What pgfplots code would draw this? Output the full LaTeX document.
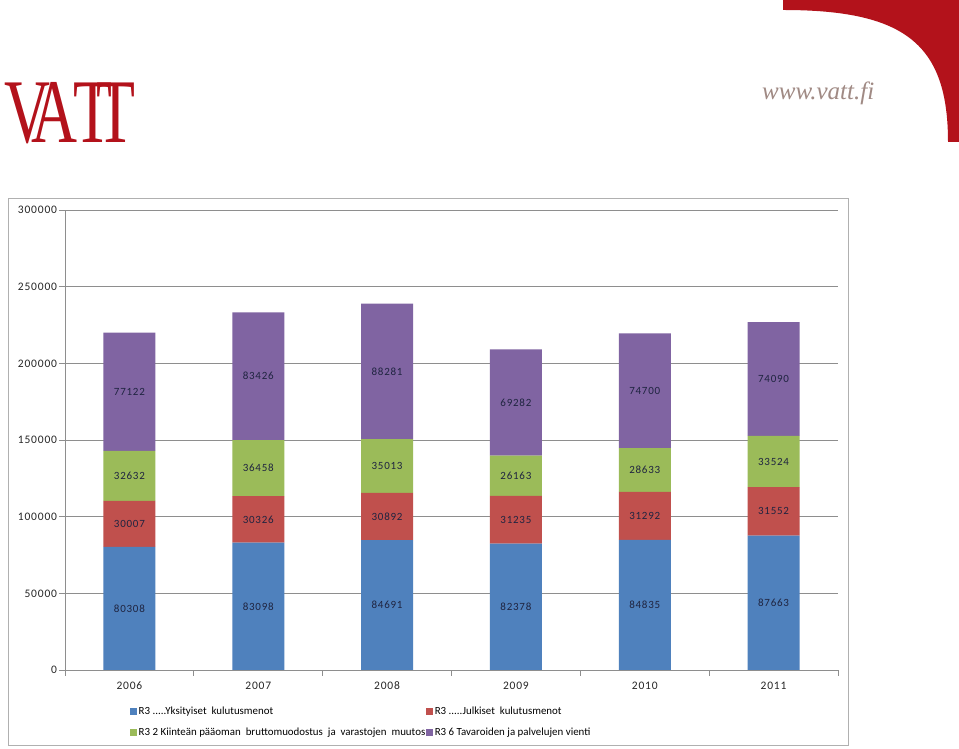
\documentclass[border=0pt]{standalone}
\usepackage{fontspec}
\setmainfont{Carlito}
\newfontfamily\serifit{Liberation Serif}
\newfontfamily\calsp[LetterSpace=7]{Carlito}
\usepackage{pgfplots}
\pgfplotsset{compat=1.18}
\usepackage{pgfplotstable}

\definecolor{cblue}{HTML}{4F81BD}
\definecolor{cred}{HTML}{C0504D}
\definecolor{cgreen}{HTML}{9BBB59}
\definecolor{cpurple}{HTML}{8064A2}
\definecolor{vattred}{HTML}{B3121B}
\definecolor{urlgray}{HTML}{A08A84}
\definecolor{gridgray}{HTML}{8E8E8E}
\definecolor{framegray}{HTML}{B0B0B0}
\definecolor{labelc}{HTML}{1F2440}

\pgfplotstableread{
x b r g p
0 80308 30007 32632 77122
1 83098 30326 36458 83426
2 84691 30892 35013 88281
3 82378 31235 26163 69282
4 84835 31292 28633 74700
5 87663 31552 33524 74090
}\datatab

\pgfplotstableread{
x y l
0 40154 80308
0 95311.5 30007
0 126631 32632
0 181508 77122
1 41549 83098
1 98261 30326
1 131653 36458
1 191595 83426
2 42345.5 84691
2 100137 30892
2 133089.5 35013
2 194736.5 88281
3 41189 82378
3 97995.5 31235
3 126694.5 26163
3 174417 69282
4 42417.5 84835
4 100481 31292
4 130443.5 28633
4 182110 74700
5 43831.5 87663
5 103439 31552
5 135977 33524
5 189784 74090
}\labtab

\pgfplotsset{/pgfplots/ybar legend/.style={/pgfplots/legend image code/.code={\fill[##1,draw=none] (0pt,-3.5pt) rectangle (7pt,3.5pt);\path (7.5pt,0pt);}}}

\begin{document}
\begin{tikzpicture}[x=1pt,y=1pt]
\useasboundingbox (0,0) rectangle (959,749);
\fill[white] (0,0) rectangle (959,749);
% corner shape
\fill[vattred] (783,749) -- (959,749) -- (959,607) -- (948,607) .. controls (948,705) and (905,739) .. (783,739) -- cycle;
% logo
\node[anchor=base west, inner sep=0pt, text=vattred] at (4,606) {\scalebox{0.70}[1]{\fontsize{91}{91}\serifit V\kern-0.3em A\kern-0.05em T\kern-0.25em T}};
\node[anchor=base west, inner sep=0pt, text=urlgray] at (762,649) {\fontsize{25}{25}\serifit\itshape www.vatt.fi};
% chart frame
\draw[framegray, line width=0.8pt] (8,4) rectangle (848,551);

\begin{axis}[
  at={(65pt,79pt)}, anchor=south west,
  scale only axis, width=773pt, height=460pt,
  ybar stacked, bar width=52pt,
  legend image code/.code={\fill[#1,draw=none] (0pt,-3.5pt) rectangle (7pt,3.5pt);\path (7.5pt,0pt);},
  xmin=-0.5, xmax=5.5, ymin=0, ymax=300000,
  axis lines*=left,
  axis line style={gridgray, line width=0.8pt},
  xtick={-0.5,0.5,1.5,2.5,3.5,4.5,5.5},
  xticklabels={2006,2007,2008,2009,2010,2011,{}},
  x tick label as interval,
  ytick={0,50000,100000,150000,200000,250000,300000},
  scaled y ticks=false,
  yticklabel style={/pgf/number format/fixed, /pgf/number format/1000 sep={}, xshift=1.5pt},
  /pgf/number format/assume math mode=true,
  ymajorgrids, grid style={gridgray, line width=0.8pt},
  tick align=outside, major tick length=6pt,
  tick style={gridgray, line width=0.8pt},
  ticklabel style={font=\calsp\fontsize{11.5}{13}\selectfont, text=black!85},
  xticklabel style={anchor=north, text height=8pt, text depth=0pt, yshift=-2pt},
  legend columns=2,
  legend cell align=left,
  legend style={at={(axis description cs:0.0841,-0.0775)}, anchor=north west,
    draw=none, fill=none, inner sep=0pt, row sep=9pt,
    font=\fontsize{10.9}{13}\selectfont,
    nodes={inner sep=1pt, text height=8pt, text depth=2pt},
    /tikz/every even column/.append style={column sep=0pt}},
]
\addplot[fill=cblue, draw=none] table[x=x,y=b]{\datatab};
\addlegendentry{R3 .{}.{}.{}.{}.Yksityiset\ \ kulutusmenot}
\addplot[fill=cred, draw=none] table[x=x,y=r]{\datatab};
\addlegendentry{R3 .{}.{}.{}.{}.Julkiset\ \ kulutusmenot}
\addplot[fill=cgreen, draw=none] table[x=x,y=g]{\datatab};
\addlegendentry{R3 2 Kiinteän pääoman\ \ bruttomuodostus\ \ ja\ \ varastojen\ \ muutos}
\addplot[fill=cpurple, draw=none] table[x=x,y=p]{\datatab};
\addlegendentry{R3 6 Tavaroiden ja palvelujen vienti}
\end{axis}

\begin{axis}[
  at={(65pt,79pt)}, anchor=south west,
  scale only axis, width=773pt, height=460pt,
  xmin=-0.5, xmax=5.5, ymin=0, ymax=300000,
  hide axis, clip=false,
]
\addplot[draw=none, mark=none, nodes near coords, point meta=explicit symbolic,
  every node near coord/.append style={anchor=center, inner sep=0pt, font=\calsp\fontsize{11}{13}\selectfont, text=labelc}]
  table[x=x,y=y,meta=l]{\labtab};
\end{axis}
\end{tikzpicture}
\end{document}
